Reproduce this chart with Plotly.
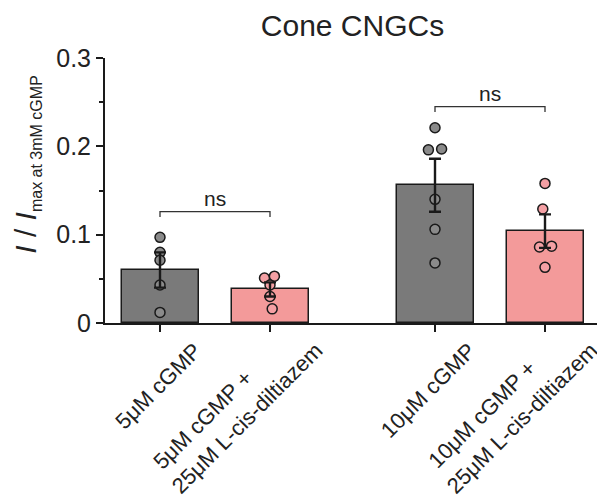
import plotly.graph_objects as go

# ---- data ----
categories = ["5μM cGMP", "5μM cGMP +<br>25μM L-cis-diltiazem",
              "10μM cGMP", "10μM cGMP +<br>25μM L-cis-diltiazem"]
bar_means = [0.060, 0.038, 0.156, 0.104]
bar_sem = [0.020, 0.008, 0.030, 0.019]
points_5 = [0.097, 0.080, 0.071, 0.043, 0.012]
points_5_dil = [0.051, 0.053, 0.043, 0.030, 0.016]
points_10 = [0.221, 0.196, 0.197, 0.140, 0.106, 0.068]
points_10_dil = [0.158, 0.129, 0.086, 0.087, 0.063]
jitter_5 = [0.0, 0.0, 0.0, 0.0, 0.0]
jitter_5_dil = [-0.05, 0.04, 0.0, 0.0, 0.02]
jitter_10 = [0.0, -0.06, 0.06, 0.0, 0.0, 0.0]
jitter_10_dil = [0.0, -0.02, -0.05, 0.06, 0.0]
yticks = [0, 0.1, 0.2, 0.3]
ytick_labels = ["0", "0.1", "0.2", "0.3"]
sig_labels = ["ns", "ns"]
sig_levels = [0.126, 0.245]

positions = [0, 1, 2.5, 3.5]
bar_colors = ["#7a7a7a", "#f39a9a", "#7a7a7a", "#f39a9a"]
dot_colors = ["#8a8a8a", "#f4a0a4", "#8a8a8a", "#f4a0a4"]
dark = "#1a1a1a"
font = "Liberation Sans, Arial, sans-serif"
lab_font = dict(size=22, color="#222", family=font)

fig = go.Figure()
fig.add_trace(go.Bar(
    x=positions, y=bar_means, width=0.7,
    marker=dict(color=bar_colors, line=dict(color=dark, width=1.5)),
    showlegend=False,
))

all_points = [points_5, points_5_dil, points_10, points_10_dil]
all_jit = [jitter_5, jitter_5_dil, jitter_10, jitter_10_dil]
for pos, pts, jit, col in zip(positions, all_points, all_jit, dot_colors):
    fig.add_trace(go.Scatter(
        x=[pos + j for j in jit], y=pts, mode="markers",
        marker=dict(size=10, color=col, line=dict(color=dark, width=1.5)),
        showlegend=False,
    ))

fig.add_trace(go.Scatter(
    x=positions, y=bar_means, mode="markers",
    marker=dict(size=1, color="rgba(0,0,0,0)"),
    error_y=dict(type="data", array=bar_sem, color=dark, thickness=2.4, width=6),
    showlegend=False,
))

# significance brackets
for g, (lab, lev) in enumerate(zip(sig_labels, sig_levels)):
    x0, x1 = positions[2 * g], positions[2 * g + 1]
    leg = 0.006
    fig.add_trace(go.Scatter(
        x=[x0, x0, x1, x1], y=[lev - leg, lev, lev, lev - leg], mode="lines",
        line=dict(color="#333333", width=1.3), showlegend=False,
    ))
    fig.add_annotation(x=(x0 + x1) / 2, y=lev, text=lab, showarrow=False,
                       yanchor="bottom", yshift=0,
                       font=dict(size=21, color="#222", family=font))

# rotated category labels (one annotation per text line)
for pos, lab in zip(positions, categories):
    lines = lab.split("<br>")
    if len(lines) == 1:
        fig.add_annotation(
            x=pos, xref="x", y=0, yref="paper", text=lines[0], showarrow=False,
            textangle=-45, xanchor="right", yanchor="top", borderpad=0,
            xshift=47, yshift=-14, font=lab_font,
        )
    else:
        starts = [(-123, -152), (-105, -177)]
        for line, (dx, dy) in zip(lines, starts):
            fig.add_annotation(
                x=pos, xref="x", y=0, yref="paper", text=line, showarrow=False,
                textangle=-45, xanchor="left", yanchor="bottom", borderpad=0,
                xshift=dx, yshift=dy, font=lab_font,
            )

# y-axis title as rotated annotation
fig.add_annotation(
    xref="paper", yref="paper", x=-0.158, y=0.60, xanchor="center", yanchor="middle",
    textangle=-90, showarrow=False,
    text="<i>I</i> / <i>I</i><sub><span style='font-size:16px'>max at 3mM cGMP</span></sub>",
    font=dict(size=30, color="#222", family=font),
)

fig.update_layout(
    width=605, height=500,
    margin=dict(l=97, r=13, t=50, b=185),
    paper_bgcolor="white", plot_bgcolor="white",
    font=dict(family=font, color="#222"),
    title=dict(text="Cone CNGCs", xref="paper", x=0.5, xanchor="center",
               yref="container", y=0.965, yanchor="middle",
               font=dict(size=30, color="#222", family=font)),
    bargap=0,
)
fig.update_xaxes(
    range=[-0.5, 4.0], tickvals=positions, showticklabels=False,
    showline=True, linecolor=dark, linewidth=2, ticks="outside", ticklen=7,
    tickwidth=2, tickcolor=dark, showgrid=False, zeroline=False, automargin=False,
)
fig.update_yaxes(
    range=[0, 0.3], tickvals=yticks, ticktext=ytick_labels,
    showline=True, linecolor=dark, linewidth=2, ticks="outside", ticklen=7,
    tickwidth=2, tickcolor=dark, showgrid=False, zeroline=False, automargin=False,
    minor=dict(ticks="outside", ticklen=4, tickwidth=1.5, tickcolor=dark, dtick=0.05),
    tickfont=dict(size=25, color="#222", family=font),
)

fig.write_html("out.html")
